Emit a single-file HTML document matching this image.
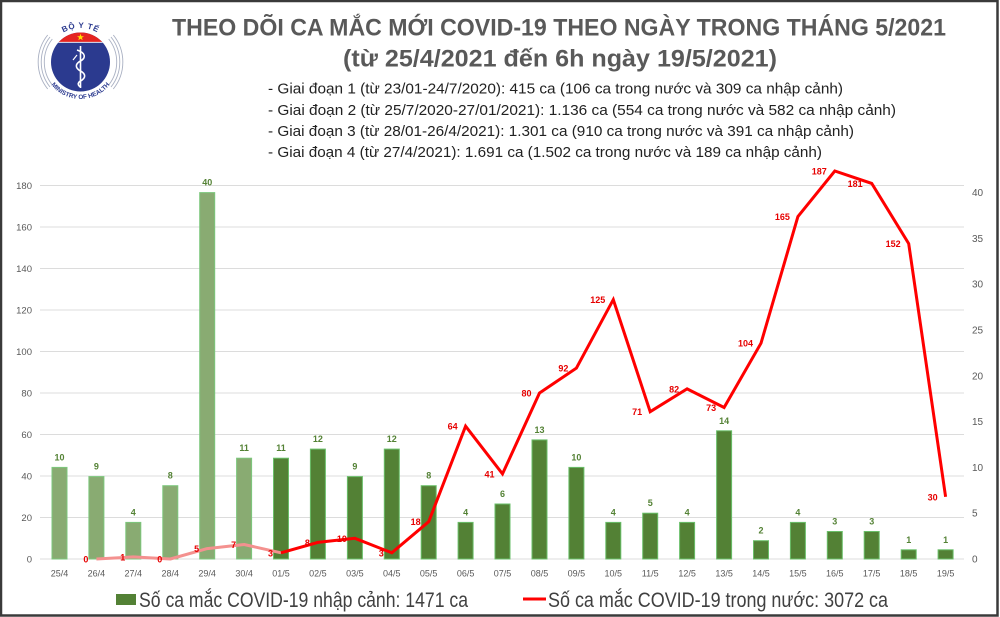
<!DOCTYPE html>
<html><head><meta charset="utf-8"><style>
html,body{margin:0;padding:0;background:#fff;}
svg{display:block;}
text{font-family:"Liberation Sans",Arial,sans-serif;}
</style></head><body>
<svg width="1000" height="617" viewBox="0 0 1000 617" xmlns="http://www.w3.org/2000/svg">
<rect x="0" y="0" width="1000" height="617" fill="#fff"/>
<!-- border -->
<rect x="1" y="1" width="996.5" height="614.5" fill="none" stroke="#3a3a3a" stroke-width="2.5"/>

<!-- Logo -->
<g>
  <g fill="none" stroke="#a9b0c2" stroke-width="0.9">
    <path d="M 52.3 39 A 37 37 0 0 0 52.3 85"/>
    <path d="M 50 37 A 40 40 0 0 0 50 87"/>
    <path d="M 47.7 35 A 43 43 0 0 0 47.7 89"/>
    <path d="M 108.7 39 A 37 37 0 0 1 108.7 85"/>
    <path d="M 111 37 A 40 40 0 0 1 111 87"/>
    <path d="M 113.3 35 A 43 43 0 0 1 113.3 89"/>
  </g>
  <defs><clipPath id="disk"><circle cx="80.5" cy="62" r="29.5"/></clipPath></defs>
  <circle cx="80.5" cy="62" r="29.5" fill="#2b3a8f"/>
  <rect x="50" y="32" width="62" height="10" fill="#e52421" clip-path="url(#disk)"/>
  <line x1="50" y1="42.3" x2="112" y2="42.3" stroke="#fff" stroke-width="0.8" clip-path="url(#disk)"/>
  <polygon points="80.5,33.8 81.4,36.3 84,36.3 81.9,37.8 82.7,40.3 80.5,38.8 78.3,40.3 79.1,37.8 77,36.3 79.6,36.3" fill="#ffde00"/>
  <g stroke="#fff" fill="none" stroke-width="1.6">
    <line x1="80.5" y1="46" x2="80.5" y2="88"/>
    <path d="M 77 50 C 86 53, 86 58, 80.5 61 C 75 64, 75 68, 80.5 71 C 86 74, 86 78, 80.5 81 C 77 83, 78 86, 81 87"/>
    <path d="M 73 60 L 77 55" stroke-width="1.2"/>
  </g>
  <defs>
    <path id="topArc" d="M 46.5 62 A 34 34 0 0 1 114.5 62"/>
    <path id="botArc" d="M 43.5 62 A 37 37 0 0 0 117.5 62"/>
  </defs>
  <rect x="60" y="18" width="41" height="12" fill="#fff"/>
  <text font-size="8" font-weight="bold" fill="#2b3a8f" letter-spacing="0.6"><textPath href="#topArc" startOffset="50%" text-anchor="middle">BỘ Y TẾ</textPath></text>
  <text font-size="6.3" font-weight="bold" fill="#2b3a8f"><textPath href="#botArc" startOffset="50%" text-anchor="middle">MINISTRY OF HEALTH</textPath></text>
</g>

<!-- Title -->
<text x="172" y="35.5" font-size="24" font-weight="bold" fill="#595959" textLength="774" lengthAdjust="spacingAndGlyphs">THEO DÕI CA MẮC MỚI COVID-19 THEO NGÀY TRONG THÁNG 5/2021</text>
<text x="343" y="66.5" font-size="24" font-weight="bold" fill="#595959" textLength="434" lengthAdjust="spacingAndGlyphs">(từ 25/4/2021 đến 6h ngày 19/5/2021)</text>
<g font-size="15" fill="#222">
<text x="268" y="93.5" textLength="575" lengthAdjust="spacingAndGlyphs">- Giai đoạn 1 (từ 23/01-24/7/2020): 415 ca (106 ca trong nước và 309 ca nhập cảnh)</text>
<text x="268" y="115" textLength="628" lengthAdjust="spacingAndGlyphs">- Giai đoạn 2 (từ 25/7/2020-27/01/2021): 1.136 ca (554 ca trong nước và 582 ca nhập cảnh)</text>
<text x="268" y="136" textLength="586" lengthAdjust="spacingAndGlyphs">- Giai đoạn 3 (từ 28/01-26/4/2021): 1.301 ca (910 ca trong nước và 391 ca nhập cảnh)</text>
<text x="268" y="157" textLength="554" lengthAdjust="spacingAndGlyphs">- Giai đoạn 4 (từ 27/4/2021): 1.691 ca (1.502 ca trong nước và 189 ca nhập cảnh)</text>
</g>

<!-- gridlines -->
<g stroke="#dcdcdc" stroke-width="1">
<line x1="40" y1="559" x2="964" y2="559"/>
<line x1="40" y1="517.5" x2="964" y2="517.5"/>
<line x1="40" y1="476" x2="964" y2="476"/>
<line x1="40" y1="434.5" x2="964" y2="434.5"/>
<line x1="40" y1="393" x2="964" y2="393"/>
<line x1="40" y1="351.5" x2="964" y2="351.5"/>
<line x1="40" y1="310" x2="964" y2="310"/>
<line x1="40" y1="268.5" x2="964" y2="268.5"/>
<line x1="40" y1="227" x2="964" y2="227"/>
<line x1="40" y1="185.5" x2="964" y2="185.5"/>
</g>

<!-- left axis labels -->
<g font-size="9.5" fill="#595959" text-anchor="end">
<text x="32" y="562.3">0</text>
<text x="32" y="520.8">20</text>
<text x="32" y="479.3">40</text>
<text x="32" y="437.8">60</text>
<text x="32" y="396.3">80</text>
<text x="32" y="354.8">100</text>
<text x="32" y="313.3">120</text>
<text x="32" y="271.8">140</text>
<text x="32" y="230.3">160</text>
<text x="32" y="188.8">180</text>
</g>
<!-- right axis labels -->
<g font-size="10" fill="#595959">
<text x="972" y="562.5">0</text>
<text x="972" y="516.7">5</text>
<text x="972" y="470.9">10</text>
<text x="972" y="425.1">15</text>
<text x="972" y="379.3">20</text>
<text x="972" y="333.5">25</text>
<text x="972" y="287.7">30</text>
<text x="972" y="241.9">35</text>
<text x="972" y="196.1">40</text>
</g>

<!-- bars April (light) -->
<g fill="#89ab72" stroke="#7cc77c" stroke-width="1">
<rect x="52" y="467.4" width="15" height="91.6"/>
<rect x="88.9" y="476.6" width="15" height="82.4"/>
<rect x="125.8" y="522.4" width="15" height="36.6"/>
<rect x="162.8" y="485.7" width="15" height="73.3"/>
<rect x="199.7" y="192.6" width="15" height="366.4"/>
<rect x="236.6" y="458.2" width="15" height="100.8"/>
</g>
<!-- bars May (dark) -->
<g fill="#538135" stroke="#6abf69" stroke-width="1">
<rect x="273.5" y="458.2" width="15" height="100.8"/>
<rect x="310.4" y="449.1" width="15" height="109.9"/>
<rect x="347.4" y="476.6" width="15" height="82.4"/>
<rect x="384.3" y="449.1" width="15" height="109.9"/>
<rect x="421.2" y="485.7" width="15" height="73.3"/>
<rect x="458.1" y="522.4" width="15" height="36.6"/>
<rect x="495" y="504" width="15" height="55"/>
<rect x="532" y="439.9" width="15" height="119.1"/>
<rect x="568.9" y="467.4" width="15" height="91.6"/>
<rect x="605.8" y="522.4" width="15" height="36.6"/>
<rect x="642.7" y="513.2" width="15" height="45.8"/>
<rect x="679.6" y="522.4" width="15" height="36.6"/>
<rect x="716.6" y="430.8" width="15" height="128.2"/>
<rect x="753.5" y="540.7" width="15" height="18.3"/>
<rect x="790.4" y="522.4" width="15" height="36.6"/>
<rect x="827.3" y="531.5" width="15" height="27.5"/>
<rect x="864.2" y="531.5" width="15" height="27.5"/>
<rect x="901.2" y="549.8" width="15" height="9.2"/>
<rect x="938.1" y="549.8" width="15" height="9.2"/>
</g>

<!-- line -->
<polyline fill="none" stroke="#f4918f" stroke-width="3" stroke-linejoin="round" points="96.4,559 133.3,556.9 170.3,559 207.2,548.6 244.1,544.5 281,552.8"/>
<polyline fill="none" stroke="#ff0000" stroke-width="3" stroke-linejoin="miter" points="281,552.8 317.9,542.4 354.9,538.3 391.8,552.8 428.7,521.7 465.6,426.2 502.5,473.9 539.5,393 576.4,368.1 613.3,299.6 650.2,411.7 687.1,388.9 724.1,407.5 761,343.2 797.9,216.6 834.8,171 871.7,183.4 908.7,243.6 945.6,496.8"/>

<!-- green labels -->
<g font-size="9" font-weight="bold" fill="#548235" text-anchor="middle">
<text x="59.5" y="460.4">10</text>
<text x="96.4" y="469.6">9</text>
<text x="133.3" y="515.4">4</text>
<text x="170.3" y="478.7">8</text>
<text x="207.2" y="185.6">40</text>
<text x="244.1" y="451.2">11</text>
<text x="281" y="451.2">11</text>
<text x="317.9" y="442.1">12</text>
<text x="354.9" y="469.6">9</text>
<text x="391.8" y="442.1">12</text>
<text x="428.7" y="478.7">8</text>
<text x="465.6" y="515.4">4</text>
<text x="502.5" y="497">6</text>
<text x="539.5" y="432.9">13</text>
<text x="576.4" y="460.4">10</text>
<text x="613.3" y="515.4">4</text>
<text x="650.2" y="506.2">5</text>
<text x="687.1" y="515.4">4</text>
<text x="724.1" y="423.8">14</text>
<text x="761" y="533.7">2</text>
<text x="797.9" y="515.4">4</text>
<text x="834.8" y="524.5">3</text>
<text x="871.7" y="524.5">3</text>
<text x="908.7" y="542.8">1</text>
<text x="945.6" y="542.8">1</text>
</g>

<!-- red labels -->
<g font-size="9" font-weight="bold" fill="#e60000" text-anchor="end">
<text x="88.4" y="562.5">0</text>
<text x="125.3" y="560.4">1</text>
<text x="162.3" y="562.5">0</text>
<text x="199.2" y="552.1">5</text>
<text x="236.1" y="548">7</text>
<text x="273" y="556.3">3</text>
<text x="309.9" y="545.9">8</text>
<text x="346.9" y="541.8">10</text>
<text x="383.8" y="556.3">3</text>
<text x="420.7" y="525.2">18</text>
<text x="457.6" y="429.7">64</text>
<text x="494.5" y="477.4">41</text>
<text x="531.5" y="396.5">80</text>
<text x="568.4" y="371.6">92</text>
<text x="605.3" y="303.1">125</text>
<text x="642.2" y="415.2">71</text>
<text x="679.1" y="392.4">82</text>
<text x="716.1" y="411">73</text>
<text x="753" y="346.7">104</text>
<text x="789.9" y="220.1">165</text>
<text x="826.8" y="174.5">187</text>
<text x="862.7" y="186.9">181</text>
<text x="900.7" y="247.1">152</text>
<text x="937.6" y="500.3">30</text>
</g>

<!-- x labels -->
<g font-size="9" fill="#595959" text-anchor="middle">
<text x="59.5" y="576.5">25/4</text>
<text x="96.4" y="576.5">26/4</text>
<text x="133.3" y="576.5">27/4</text>
<text x="170.3" y="576.5">28/4</text>
<text x="207.2" y="576.5">29/4</text>
<text x="244.1" y="576.5">30/4</text>
<text x="281" y="576.5">01/5</text>
<text x="317.9" y="576.5">02/5</text>
<text x="354.9" y="576.5">03/5</text>
<text x="391.8" y="576.5">04/5</text>
<text x="428.7" y="576.5">05/5</text>
<text x="465.6" y="576.5">06/5</text>
<text x="502.5" y="576.5">07/5</text>
<text x="539.5" y="576.5">08/5</text>
<text x="576.4" y="576.5">09/5</text>
<text x="613.3" y="576.5">10/5</text>
<text x="650.2" y="576.5">11/5</text>
<text x="687.1" y="576.5">12/5</text>
<text x="724.1" y="576.5">13/5</text>
<text x="761" y="576.5">14/5</text>
<text x="797.9" y="576.5">15/5</text>
<text x="834.8" y="576.5">16/5</text>
<text x="871.7" y="576.5">17/5</text>
<text x="908.7" y="576.5">18/5</text>
<text x="945.6" y="576.5">19/5</text>
</g>

<!-- legend -->
<rect x="116" y="594" width="20" height="11" fill="#538135"/>
<text x="139" y="607" font-size="21" fill="#404040" textLength="329" lengthAdjust="spacingAndGlyphs">Số ca mắc COVID-19 nhập cảnh: 1471 ca</text>
<line x1="523" y1="599" x2="546" y2="599" stroke="#ff0000" stroke-width="3"/>
<text x="548" y="607" font-size="21" fill="#404040" textLength="340" lengthAdjust="spacingAndGlyphs">Số ca mắc COVID-19 trong nước: 3072 ca</text>
</svg>
</body></html>
